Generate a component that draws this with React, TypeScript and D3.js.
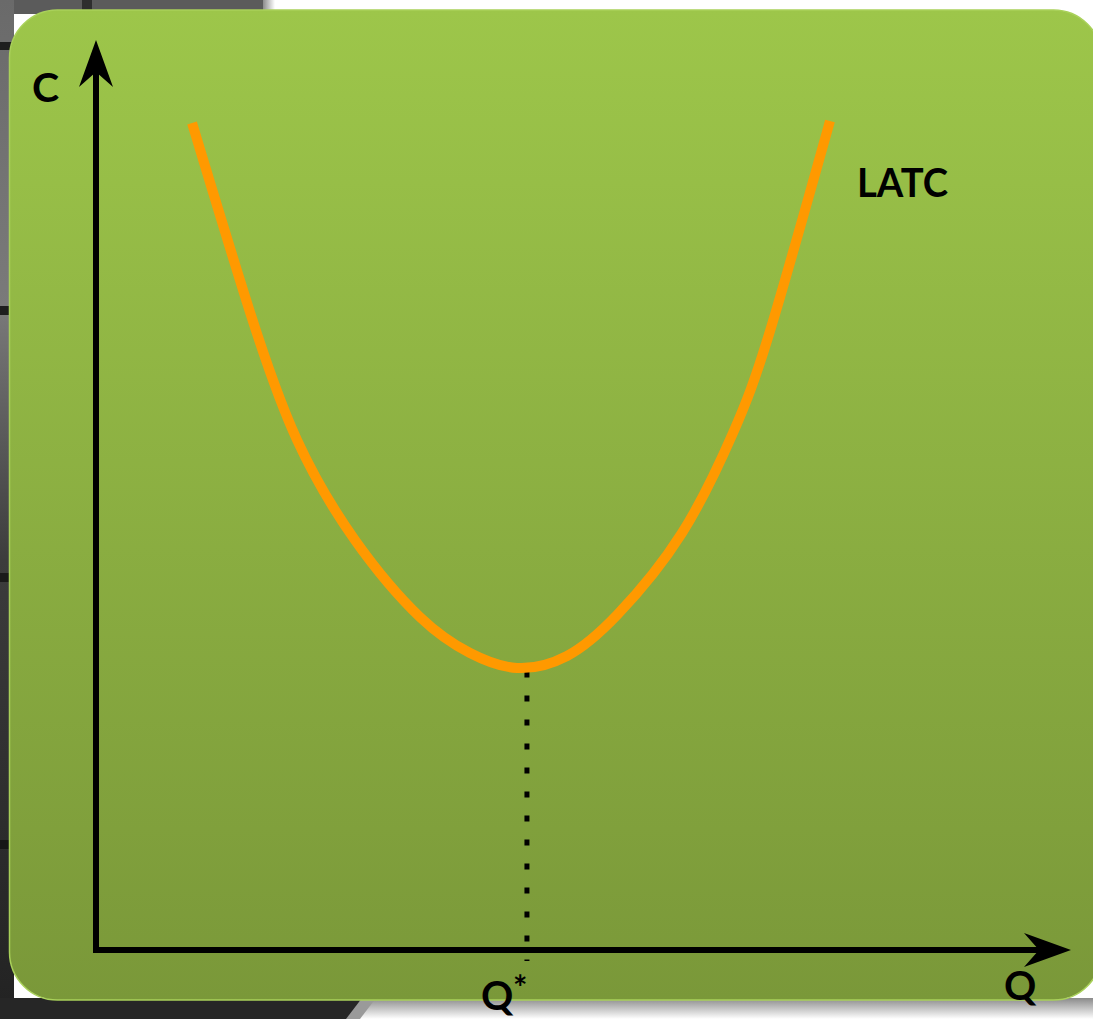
import React from "react";
import * as d3 from "d3";

// Long-run average total cost curve (Q units, C units)
const quantity = [0.985, 1.579, 2.062, 2.656, 3.323, 3.836, 4.318, 4.831, 5.344, 6.01, 6.533, 6.913, 7.528];
const cost = [9.088, 7.011, 5.604, 4.505, 3.659, 3.264, 3.099, 3.231, 3.681, 4.582, 5.681, 6.802, 9.11];
const qStar = 4.42;
const qStarCost = 3.06;
const axisLabels = { y: "C", x: "Q", curve: "LATC", star: "Q" };

const W = 1093;
const H = 1019;

export default function App() {
  const x = d3.scaleLinear().domain([0, 10]).range([96, 1071]);
  const y = d3.scaleLinear().domain([0, 10]).range([950, 40]);

  const pts = quantity.map((q, i) => [q, cost[i]] as [number, number]);
  const line = d3
    .line<[number, number]>()
    .x((d) => x(d[0]))
    .y((d) => y(d[1]))
    .curve(d3.curveNatural);

  const x0 = x(0);
  const y0 = y(0);
  const yTip = y(10);
  const xTip = x(10);
  const font = "Lato, 'Open Sans', sans-serif";

  return (
    <svg
      width={W}
      height={H}
      style={{ position: "absolute", left: 0, top: 0, display: "block" }}
    >
      <defs>
        <linearGradient id="panel" x1="0" y1="0" x2="0" y2="1">
          <stop offset="0" stopColor="#9dc64a" />
          <stop offset="1" stopColor="#7a9839" />
        </linearGradient>
        <linearGradient id="leftStrip" x1="0" y1="0" x2="0" y2="1">
          <stop offset="0" stopColor="#6a6a6a" />
          <stop offset="0.3" stopColor="#7a7a7a" />
          <stop offset="0.55" stopColor="#3c3c3c" />
          <stop offset="1" stopColor="#222222" />
        </linearGradient>
        <linearGradient id="shadow" x1="0" y1="0" x2="0" y2="1">
          <stop offset="0" stopColor="#8a8a8a" />
          <stop offset="1" stopColor="#ffffff" />
        </linearGradient>
        <linearGradient id="topEdge" x1="0" y1="0" x2="1" y2="0">
          <stop offset="0" stopColor="#8c8c8c" />
          <stop offset="1" stopColor="#ffffff" />
        </linearGradient>
      </defs>

      {/* page background */}
      <rect x={0} y={0} width={W} height={H} fill="#ffffff" />
      <rect x={0} y={0} width={263} height={14} fill="#5b5b5b" />
      <rect x={263} y={0} width={12} height={14} fill="url(#topEdge)" />
      <rect x={82} y={0} width={10} height={14} fill="#2e2e2e" />
      <rect x={0} y={0} width={14} height={H} fill="url(#leftStrip)" />
      <rect x={0} y={42} width={14} height={8} fill="#1e1e1e" />
      <rect x={0} y={306} width={14} height={9} fill="#1e1e1e" />
      <rect x={0} y={573} width={14} height={9} fill="#1a1a1a" />
      <rect x={0} y={840} width={14} height={9} fill="#161616" />
      <rect x={0} y={998} width={W} height={H - 998} fill="url(#shadow)" />
      <path d={`M0,998 L372,998 L356,${H} L0,${H} Z`} fill="#262626" />
      <path d={`M362,998 L376,998 L360,${H} L346,${H} Z`} fill="#9a9a9a" />

      {/* panel */}
      <rect
        x={9.5}
        y={10}
        width={1092}
        height={990}
        rx={48}
        ry={48}
        fill="url(#panel)"
        stroke="#a9d15a"
        strokeWidth={1.5}
      />

      {/* dotted drop line */}
      <line
        x1={x(qStar)}
        x2={x(qStar)}
        y1={y(qStarCost)}
        y2={y0 + 11}
        stroke="#000"
        strokeWidth={5}
        strokeDasharray="6 18"
      />

      {/* axes */}
      <line x1={x0} x2={x0} y1={y0 + 3} y2={yTip + 30} stroke="#000" strokeWidth={6} />
      <path
        d={`M${x0},${yTip} L${x0 + 17},${yTip + 47} L${x0},${yTip + 32} L${x0 - 17},${yTip + 47} Z`}
        fill="#000"
      />
      <line x1={x0 - 3} x2={xTip - 30} y1={y0} y2={y0} stroke="#000" strokeWidth={6} />
      <path
        d={`M${xTip},${y0} L${xTip - 47},${y0 - 17} L${xTip - 32},${y0} L${xTip - 47},${y0 + 17} Z`}
        fill="#000"
      />

      {/* LATC curve */}
      <path
        d={line(pts) || ""}
        fill="none"
        stroke="#ff9900"
        strokeWidth={10}
        strokeLinecap="butt"
        strokeLinejoin="round"
      />

      {/* labels */}
      <text x={32} y={102} fontFamily={font} fontWeight={700} fontSize={41} fill="#000">
        {axisLabels.y}
      </text>
      <text
        x={857}
        y={197}
        fontFamily={font}
        fontWeight={700}
        fontSize={41}
        fill="#000"
        textLength={91}
        lengthAdjust="spacingAndGlyphs"
      >
        {axisLabels.curve}
      </text>
      <text x={1004} y={1000} fontFamily={font} fontWeight={700} fontSize={40} fill="#000">
        {axisLabels.x}
      </text>
      <text x={481} y={1010} fontFamily={font} fontWeight={700} fontSize={40} fill="#000">
        {axisLabels.star}
      </text>
      <text x={513} y={1000} fontFamily={font} fontWeight={700} fontSize={34} fill="#000">
        *
      </text>
    </svg>
  );
}
